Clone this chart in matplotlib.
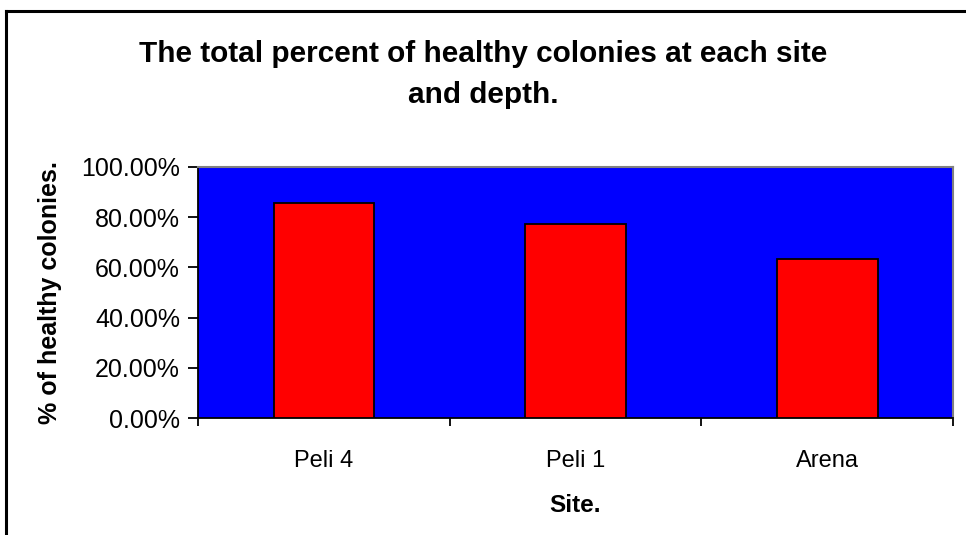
import matplotlib
matplotlib.use("Agg")
import matplotlib.pyplot as plt
from matplotlib.lines import Line2D
from matplotlib.ticker import FuncFormatter, FixedLocator

sites = ["Peli 4", "Peli 1", "Arena"]
healthy_pct = [0.857, 0.773, 0.633]
y_ticks = [0.0, 0.2, 0.4, 0.6, 0.8, 1.0]

plt.rcParams['font.family'] = ['Liberation Sans', 'DejaVu Sans']

W, H = 966, 535
fig = plt.figure(figsize=(W / 100, H / 100), dpi=100)
fig.patch.set_facecolor("white")

# Chart border (left and top edges visible)
fig.add_artist(Line2D([6 / W, 6 / W], [0, 1 - 11 / H], transform=fig.transFigure, color="black", lw=2.2))
fig.add_artist(Line2D([6 / W, 1.0], [1 - 11 / H, 1 - 11 / H], transform=fig.transFigure, color="black", lw=2.2))

left, right, bottom, top = 198 / W, 953 / W, 1 - 418 / H, 1 - 167 / H
ax = fig.add_axes([left, bottom, right - left, top - bottom])
ax.set_facecolor("#0000FF")

x = list(range(len(sites)))
ax.bar(x, healthy_pct, width=0.4, color="#FF0000", edgecolor="black", linewidth=1.3, zorder=3)

ax.set_xlim(-0.5, len(sites) - 0.5)
ax.set_ylim(0, 1.0)
ax.yaxis.set_major_locator(FixedLocator(y_ticks))
ax.yaxis.set_major_formatter(FuncFormatter(lambda v, p: f"{v * 100:.2f}%"))
ax.set_xticks([i - 0.5 for i in range(len(sites) + 1)])
ax.set_xticklabels([])
ax.set_xticks(x, minor=True)
ax.set_xticklabels(sites, minor=True)
ax.tick_params(axis="x", which="minor", length=0, pad=23, labelsize=17)
ax.tick_params(axis="x", which="major", direction="out", length=6, width=1.3, color="black")
ax.tick_params(axis="y", direction="out", length=7, width=1.3, labelsize=18, pad=6)

for s in ["left", "bottom"]:
    ax.spines[s].set_color("black")
    ax.spines[s].set_linewidth(1.3)
for s in ["top", "right"]:
    ax.spines[s].set_color("#808080")
    ax.spines[s].set_linewidth(1.5)

ax.set_xlabel("Site.", fontsize=17.5, fontweight="bold", labelpad=16)
ax.set_ylabel("% of healthy colonies.", fontsize=18, fontweight="bold", labelpad=14)

fig.text(483 / W, 1 - 74.5 / H, "The total percent of healthy colonies at each site\nand depth.",
         ha="center", va="center", fontsize=21.4, fontweight="bold", linespacing=1.6)

fig.savefig("out.png", dpi=100)
